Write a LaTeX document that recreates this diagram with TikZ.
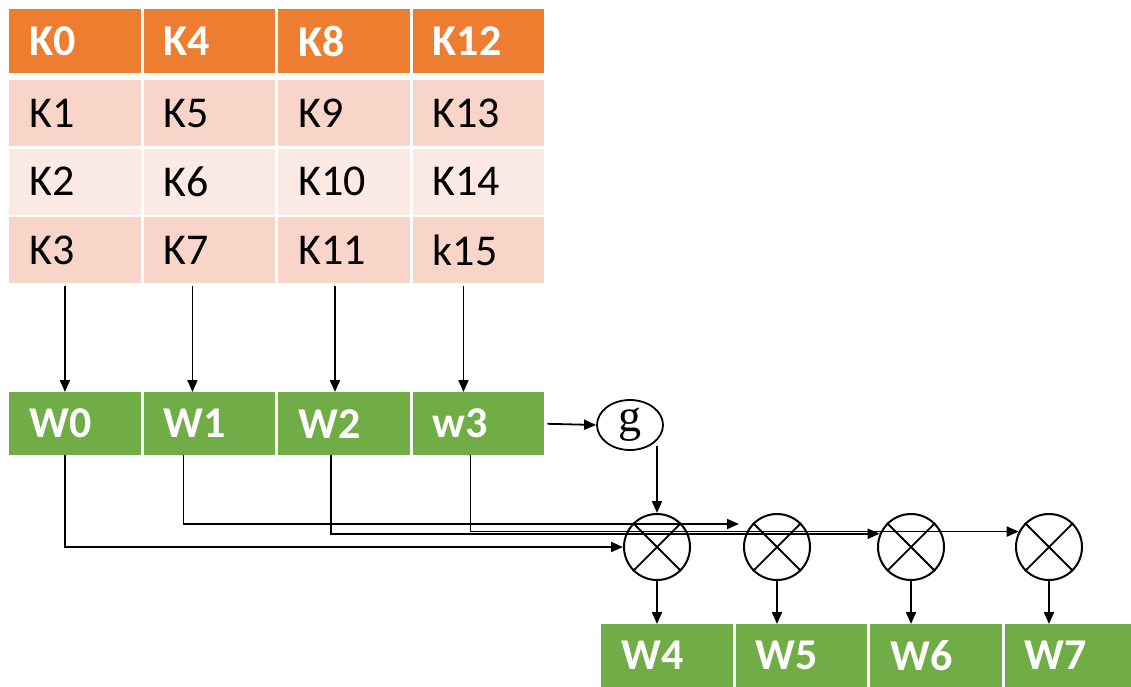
\documentclass[tikz,border=0pt]{standalone}
\usepackage{fontspec}
\setmainfont{Carlito}
\newfontfamily\gfont{Liberation Serif}
\usetikzlibrary{arrows.meta,shapes.geometric}
\definecolor{korange}{HTML}{ED7D31}
\definecolor{kband}{HTML}{F8D5C8}
\definecolor{klight}{HTML}{FBEAE4}
\definecolor{wgreen}{HTML}{70AD47}
\begin{document}
\begin{tikzpicture}[x=1pt,y=-1pt,
  cell/.style={anchor=north west, minimum width=131.5pt, text width=91.5pt,
    inner xsep=20pt, inner ysep=0pt, align=left,
    font=\fontsize{44}{48}\selectfont},
  head/.style={cell, fill=korange, text=white, minimum height=64pt,
    font=\fontsize{44}{48}\selectfont\bfseries},
  band/.style={cell, fill=kband, text=black, minimum height=66pt},
  light/.style={cell, fill=klight, text=black, minimum height=66pt},
  word/.style={cell, fill=wgreen, text=white, minimum height=63pt,
    font=\fontsize{44}{48}\selectfont\bfseries},
  mul/.style={circle, draw, line width=2pt, minimum size=66pt, inner sep=0pt},
  fun/.style={ellipse, draw, line width=1.8pt, minimum width=66pt,
    minimum height=50pt, inner sep=0pt, font=\fontsize{46}{50}\gfont},
  arr/.style={line width=1.8pt, -{Triangle[length=12pt,width=10pt]}},
]
\useasboundingbox (0,0) rectangle (1131,686);
\clip (0,0) rectangle (1131,686);

% key table, column by column
\node[head]  (k0)  at (9,9)      {K0};
\node[head]  (k4)  at (143.5,9)  {K4};
\node[head]  (k8)  at (278,9)    {K8};
\node[head]  (k12) at (412.5,9)  {K12};
\node[band]  (k1)  at (9,80)     {K1};
\node[band]  (k5)  at (143.5,80) {K5};
\node[band]  (k9)  at (278,80)   {K9};
\node[band]  (k13) at (412.5,80) {K13};
\node[light] (k2)  at (9,148.5)     {K2};
\node[light] (k6)  at (143.5,148.5) {K6};
\node[light] (k10) at (278,148.5)   {K10};
\node[light] (k14) at (412.5,148.5) {K14};
\node[band]  (k3)  at (9,217)     {K3};
\node[band]  (k7)  at (143.5,217) {K7};
\node[band]  (k11) at (278,217)   {K11};
\node[band]  (k15) at (412.5,217) {k15};

% first words
\node[word] (w0) at (9,392)     {W0};
\node[word] (w1) at (143.5,392) {W1};
\node[word] (w2) at (278,392)   {W2};
\node[word] (w3) at (412.5,392) {w3};

% next words
\node[word] (w4) at (601,624)    {W4};
\node[word] (w5) at (735.5,624)  {W5};
\node[word] (w6) at (870,624)    {W6};
\node[word] (w7) at (1004.5,624) {W7};

% g function and XOR units
\node[fun] (g) at (630,425) {g};
\foreach \n/\x in {x1/657, x2/777, x3/911, x4/1049} {
  \node[mul] (\n) at (\x,547) {};
  \draw[line width=1.8pt] (\n.45) -- (\n.225) (\n.135) -- (\n.315);
}

% columns of the key into the words
\draw[arr, shorten <=3pt] ([xshift=-10pt]k3.south)  -- ([xshift=-10pt]w0.north);
\draw[arr, shorten <=3pt] ([xshift=-17pt]k7.south)  -- ([xshift=-17pt]w1.north);
\draw[arr, shorten <=3pt] ([xshift=-9pt]k11.south)  -- ([xshift=-9pt]w2.north);
\draw[arr, shorten <=3pt] ([xshift=-15pt]k15.south) -- ([xshift=-15pt]w3.north);

% w3 through g into the first XOR
\draw[arr, shorten <=3pt] (w3.east) -- (g.west);
\draw[arr] (g.-45 -| x1.north) -- (x1.north);

% words feeding the XOR chain
\coordinate (t1) at ([shift={(-4,-23)}]x2.west);
\draw[arr] ([xshift=-10pt]w0.south) |- (x1.west);
\draw[arr] ([xshift=-26pt]w1.south) |- (t1);
\draw[arr] ([xshift=-13pt]w2.south) |- (x3.157);
\draw[arr] ([xshift=-8pt]w3.south)  |- (x4.153);

% XOR outputs
\foreach \n/\w in {x1/w4, x2/w5, x3/w6, x4/w7}
  \draw[arr] (\n.south) -- (\n.south |- \w.north);
\end{tikzpicture}
\end{document}
